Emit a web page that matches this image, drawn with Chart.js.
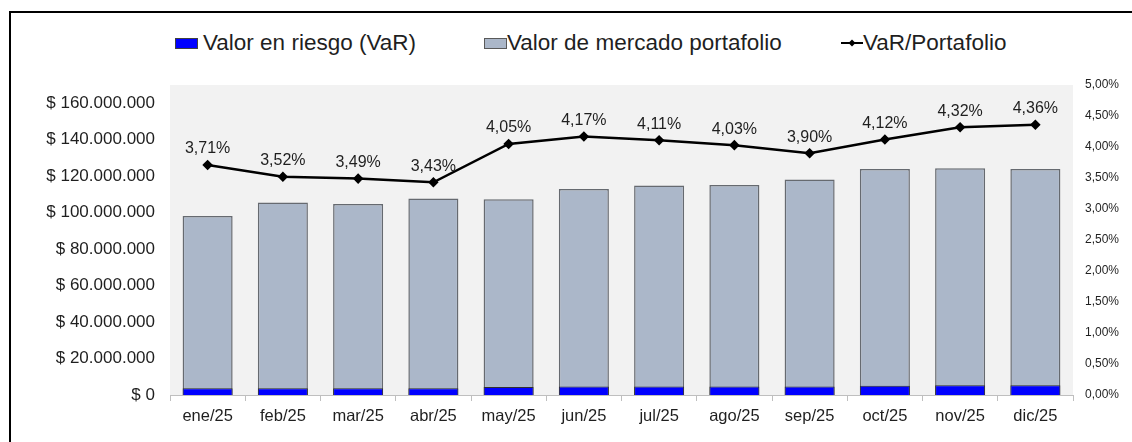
<!DOCTYPE html>
<html>
<head>
<meta charset="utf-8">
<script src="https://cdn.jsdelivr.net/npm/chart.js@4.4.1/dist/chart.umd.min.js"></script>
<style>
  body { margin: 0; background: #fff; }
  #wrap { position: relative; width: 1132px; height: 442px; overflow: hidden; font-family: "Liberation Sans", Arial, sans-serif; color: #1f1f1f; }
  #frame { position: absolute; left: 9px; top: 11px; width: 1200px; height: 500px; border-left: 2px solid #000; border-top: 2px solid #000; }
  #chart { position: absolute; left: 0; top: 0; }
  .leg { position: absolute; top: 31px; height: 24px; line-height: 24px; font-size: 22.5px; white-space: nowrap; }
  .box { position: absolute; top: 7px; width: 21px; height: 9px; border: 1px solid #404040; }
</style>
</head>
<body>
<div id="wrap">
  <div id="frame"></div>
  <div class="leg" style="left:175px"><span class="box" style="left:0;background:#0000ff"></span><span style="margin-left:28px">Valor en riesgo (VaR)</span></div>
  <div class="leg" style="left:484px"><span class="box" style="left:0;background:#abb7c9;border-color:#595959"></span><span style="margin-left:23px">Valor de mercado portafolio</span></div>
  <div class="leg" style="left:840px"><canvas id="lineIcon" width="24" height="24" style="position:absolute;left:0;top:0"></canvas><span style="margin-left:23px">VaR/Portafolio</span></div>
  <canvas id="chart" width="1132" height="442"></canvas>
</div>
<script>
const months = ['ene/25', 'feb/25', 'mar/25', 'abr/25', 'may/25', 'jun/25', 'jul/25', 'ago/25', 'sep/25', 'oct/25', 'nov/25', 'dic/25'];
const marketValue = [98.2, 105.6, 104.7, 107.8, 107.4, 113.0, 114.9, 115.2, 118.2, 124.0, 124.4, 124.0].map(v => v * 1e6);
const varValue = [3.64, 3.72, 3.65, 3.70, 4.35, 4.71, 4.72, 4.64, 4.61, 5.11, 5.37, 5.41].map(v => v * 1e6);
const varRatio = [3.71, 3.52, 3.49, 3.43, 4.05, 4.17, 4.11, 4.03, 3.90, 4.12, 4.32, 4.36];
const moneyTicks = [0, 20, 40, 60, 80, 100, 120, 140, 160].map(v => v * 1e6);

// legend icon for the line series
const ic = document.getElementById('lineIcon').getContext('2d');
ic.strokeStyle = '#000'; ic.lineWidth = 2;
ic.beginPath(); ic.moveTo(1, 12); ic.lineTo(23, 12); ic.stroke();
ic.fillStyle = '#000';
ic.beginPath(); ic.moveTo(12, 8.5); ic.lineTo(15.5, 12); ic.lineTo(12, 15.5); ic.lineTo(8.5, 12); ic.closePath(); ic.fill();

const textColor = '#1f1f1f';
const fontFamily = '"Liberation Sans", Arial, sans-serif';

function fmtMoney(v) {
    return '$ ' + Math.round(v).toString().replace(/\B(?=(\d{3})+(?!\d))/g, '.');
}
function fmtPct(v) {
    return v.toFixed(2).replace('.', ',') + '%';
}

const plotBg = {
    id: 'plotBg',
    beforeDraw(chart) {
        const a = chart.chartArea;
        const c = chart.ctx;
        c.save();
        c.fillStyle = '#f2f2f2';
        c.fillRect(a.left, a.top, a.right - a.left, a.bottom - a.top);
        c.restore();
    }
};

const ratioLabels = {
    id: 'ratioLabels',
    afterDatasetsDraw(chart) {
        const meta = chart.getDatasetMeta(2);
        const c = chart.ctx;
        c.save();
        c.font = '16px ' + fontFamily;
        c.fillStyle = textColor;
        c.textAlign = 'center';
        c.textBaseline = 'middle';
        meta.data.forEach((pt, i) => {
            c.fillText(fmtPct(varRatio[i]), pt.x, pt.y - 16);
        });
        c.restore();
    }
};

new Chart(document.getElementById('chart'), {
    type: 'bar',
    data: {
        labels: months,
        datasets: [{
            label: 'Valor en riesgo (VaR)',
            data: varValue,
            backgroundColor: '#0000ff',
            borderColor: '#303030',
            borderWidth: 1,
            grouped: false,
            barPercentage: 0.665,
            categoryPercentage: 1,
            yAxisID: 'y',
            order: 1
        }, {
            label: 'Valor de mercado portafolio',
            data: marketValue,
            backgroundColor: '#abb7c9',
            borderColor: '#666a70',
            borderWidth: 1.5,
            grouped: false,
            barPercentage: 0.665,
            categoryPercentage: 1,
            yAxisID: 'y',
            order: 2
        }, {
            type: 'line',
            label: 'VaR/Portafolio',
            data: varRatio,
            borderColor: '#000',
            borderWidth: 2.5,
            pointStyle: 'rectRot',
            pointRadius: 3.5,
            pointBackgroundColor: '#000',
            pointBorderColor: '#000',
            tension: 0,
            yAxisID: 'y1',
            order: 0
        }]
    },
    options: {
        responsive: false,
        animation: false,
        layout: { padding: { top: 85, left: 0, right: 0, bottom: 0 } },
        plugins: {
            legend: { display: false },
            tooltip: { enabled: false }
        },
        scales: {
            x: {
                grid: { display: true, drawOnChartArea: false, offset: true, tickLength: 6, color: '#bfbfbf' },
                border: { color: '#bfbfbf' },
                ticks: { color: textColor, font: { family: fontFamily, size: 16.5 }, padding: 6, maxRotation: 0 },
                afterFit(scale) { scale.height = 47; }
            },
            y: {
                position: 'left',
                min: 0,
                max: 170000000,
                grid: { display: false, drawTicks: false },
                border: { display: false },
                ticks: { color: textColor, font: { family: fontFamily, size: 17 }, padding: 15, callback: v => fmtMoney(v) },
                afterBuildTicks(scale) { scale.ticks = moneyTicks.map(v => ({ value: v })); },
                afterFit(scale) { scale.width = 170; }
            },
            y1: {
                position: 'right',
                min: 0,
                max: 5,
                grid: { display: false, drawTicks: false },
                border: { display: false },
                ticks: { stepSize: 0.5, color: textColor, font: { family: fontFamily, size: 12 }, padding: 12, callback: v => fmtPct(v) },
                afterFit(scale) { scale.width = 59; }
            }
        }
    },
    plugins: [plotBg, ratioLabels]
});
</script>
</body>
</html>
